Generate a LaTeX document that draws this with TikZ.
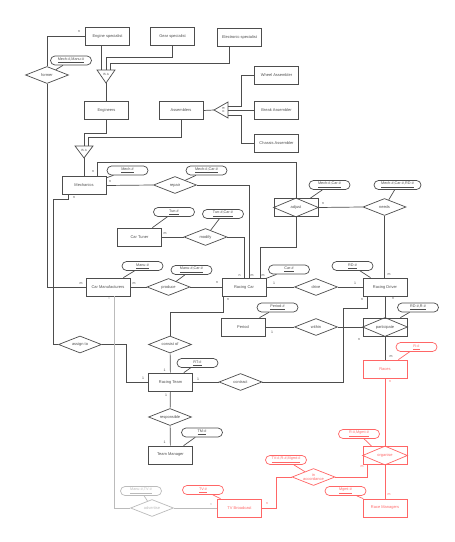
\documentclass[tikz,border=0pt]{standalone}
\usepackage{fontspec}
\setmainfont{Liberation Sans}
\usetikzlibrary{
    shapes.geometric, % For diamonds
    calc              % For coordinate offsets
}
\definecolor{erdark}{HTML}{4D4D4D}
\definecolor{erred}{HTML}{FF6666}
\definecolor{ergray}{HTML}{BBBBBB}

\begin{document}
\begin{tikzpicture}[
    x=0.03cm, y=-0.03cm,
    line width=0.6pt, erdark,
    % Styles for the ER shapes
    entity/.style={draw, rectangle, fill=white, inner sep=0pt,
        minimum width=1.32cm, minimum height=0.54cm,
        font=\fontsize{3.4}{4}\selectfont, text=erdark},
    rel/.style={draw, diamond, fill=white, inner sep=0pt, aspect=2.5,
        minimum width=1.29cm, minimum height=0.51cm, align=center,
        font=\fontsize{3.4}{4}\selectfont, text=erdark},
    attr/.style={draw, rectangle, rounded corners=0.135cm, fill=white, inner sep=0pt,
        minimum width=1.23cm, minimum height=0.27cm,
        font=\fontsize{3.2}{4}\selectfont, text=erdark},
    card/.style={inner sep=0pt, font=\fontsize{3}{3.5}\selectfont, text=erdark},
    isatext/.style={inner sep=0pt, font=\fontsize{2.6}{3}\selectfont, text=erdark},
    redset/.style={draw=erred, text=erred},
    grayset/.style={draw=ergray, text=ergray}
]
    \useasboundingbox (0,0) rectangle (454,542);

    % Specialists
    \node[entity] (eng) at (107.5,36) {Engine specialist};
    \node[entity] (gear) at (172.5,36) {Gear specialist};
    \node[entity] (elec) at (239.5,37) {Electronic specialist};

    % IS A (specialists -> engineers)
    \draw[fill=white] (97,70) -- (115,70) -- (106,83) -- cycle;
    \node[isatext] (isaA) at (106,74.5) {IS A};
    \coordinate (isaAa) at (101,70);
    \coordinate (isaAb) at (106,70);
    \coordinate (isaAc) at (110,70);
    \coordinate (isaAt) at (106,83);
    \draw (isaAa) -- (isaAa |- eng.south);
    \draw (gear.south) -- ++(0,12) -| (isaAb);
    \draw ($(elec.south)+(-10,0)$) -- ++(0,17) -| (isaAc);

    \node[entity] (engi) at (106.5,110.5) {Engineers};
    \node[entity] (asm) at (181,110.5) {Assemblers};
    \draw (isaAt) -- (isaAt |- engi.north);

    % IS A (assemblers)
    \node[entity] (wheel) at (276.5,75) {Wheel Assembler};
    \node[entity] (brk) at (276.5,110) {Break Assembler};
    \node[entity] (chas) at (276.5,143.5) {Chassis Assembler};
    \draw[fill=white] (214,110) -- (228,102) -- (228,118) -- cycle;
    \node[isatext, rotate=-90] (isaB) at (223.5,110) {IS A};
    \coordinate (isaBt) at (214,110);
    \coordinate (isaBa) at (228,106);
    \coordinate (isaBb) at (228,110);
    \coordinate (isaBc) at (228,115);
    \draw (asm.east) -- (isaBt);
    \draw (isaBa) -- ++(13,0) |- (wheel.west);
    \draw (isaBb) -- (isaBb -| brk.west);
    \draw (isaBc) -- ++(13,0) |- (chas.west);

    % IS A (engineers + assemblers -> mechanics)
    \draw[fill=white] (75,146) -- (93,146) -- (84,158) -- cycle;
    \node[isatext] (isaC) at (84,150.5) {IS A};
    \coordinate (isaCa) at (84,146);
    \coordinate (isaCb) at (88,146);
    \coordinate (isaCt) at (84,158);
    \draw (engi.south) -- ++(0,14) -| (isaCa);
    \draw (asm.south) -- ++(0,18) -| (isaCb);

    % Mechanics and former
    \node[entity] (mech) at (84,185.5) {Mechanics};
    \draw (isaCt) -- (isaCt |- mech.north);
    \node[rel] (former) at (47,75) {former};
    \node[attr] (aMechManu) at (71,60.5) {\underline{Mech-\#,Manu-\#}};
    \draw (aMechManu) -- (former);
    \node[entity] (cm) at (108,287) {Car Manufacturers};
    \draw (eng.west) -| (former.north);
    \draw (former.south) |- (cm.west);
    \node[card] (c1) at (79,32) {n};
    \node[card] (c2) at (81,284) {m};

    % repair
    \node[attr] (aMech) at (127.5,170.5) {\underline{Mech-\#}};
    \draw (aMech) -- (mech);
    \node[rel] (repair) at (175,185) {repair};
    \node[attr] (aMechCarA) at (206.5,170.5) {\underline{Mech-\#,Car-\#}};
    \draw (aMechCarA) -- (repair);
    \node[entity] (rc) at (244,287) {Racing Car};
    \draw (mech.east) -- (repair.west);
    \draw (repair.east) -| ($(rc.north)+(5,0)$);
    \node[card] (c3) at (110,182) {n};
    \node[card] (c4) at (93,172) {n};
    \node[card] (c5) at (74,197.5) {n};

    % modify
    \node[entity] (tuner) at (139.5,237) {Car Tuner};
    \node[attr] (aTun) at (174,212) {\underline{Tun-\#}};
    \draw (aTun) -- (tuner);
    \node[rel] (modify) at (205.5,237) {modify};
    \node[attr] (aTunCar) at (223,214) {\underline{Tun-\#,Car-\#}};
    \draw (aTunCar) -- (modify);
    \draw (tuner) -- (modify);
    \draw (modify.east) -| (rc.north);
    \node[card] (c6) at (165,234) {m};

    % adjust (aggregation) and needs
    \node[entity, minimum width=1.32cm] (adjust) at (296,207.5) {};
    \draw (adjust.west) -- (adjust.north) -- (adjust.east) -- (adjust.south) -- cycle;
    \node[rel, draw=none, fill=none] (adjustT) at (adjust) {adjust};
    \node[attr] (aMechCarB) at (329.5,185) {\underline{Mech-\#,Car-\#}};
    \draw (aMechCarB) -- ($(adjust.north east)+(-8,0)$);
    \draw ($(mech.north)+(13,0)$) -- ++(0,-14) -| (adjust.north);
    \draw (adjust.south) -- ++(0,30) -| ($(rc.north)+(16,0)$);
    \node[rel] (needs) at (384.5,207) {needs};
    \node[attr, minimum width=1.41cm] (aMechCarRD) at (397.5,185) {\underline{Mech-\#,Car-\#,RD-\#}};
    \draw (aMechCarRD) -- (needs);
    \draw (adjust.east) -- (needs.west);
    \node[card] (c7) at (323,204) {n};

    % produce and drive
    \node[attr] (aManu) at (142.5,266) {\underline{Manu-\#}};
    \draw (aManu) -- (cm);
    \node[rel] (produce) at (168.5,287) {produce};
    \node[attr] (aManuCar) at (191.5,270) {\underline{Manu-\#,Car-\#}};
    \draw (aManuCar) -- (produce);
    \draw (cm) -- (produce) -- (rc);
    \node[attr] (aCar) at (289,269.5) {\underline{Car-\#}};
    \draw (aCar) -- (rc);
    \node[rel] (drive) at (316,287) {drive};
    \node[entity] (rd) at (385,287) {Racing Driver};
    \node[attr] (aRD) at (352.5,266) {\underline{RD-\#}};
    \draw (aRD) -- (rd);
    \draw (rc) -- (drive) -- (rd);
    \draw (needs.south) -- (needs.south |- rd.north);
    \node[card] (c8) at (134,284) {m};
    \node[card] (c9) at (217,283) {n};
    \node[card] (c10) at (239.5,276) {n};
    \node[card] (c11) at (252,276) {m};
    \node[card] (c12) at (263,276) {m};
    \node[card] (c13) at (274,283) {1};
    \node[card] (c14) at (355,283) {1};
    \node[card] (c15) at (389,275) {m};

    % participate and within
    \node[entity] (period) at (243,327) {Period};
    \node[attr] (aPeriod) at (277.5,307.5) {\underline{Period-\#}};
    \draw (aPeriod) -- (period);
    \node[rel] (within) at (316,327) {within};
    \node[entity] (part) at (385,327) {};
    \draw (part.west) -- (part.north) -- (part.east) -- (part.south) -- cycle;
    \node[rel, draw=none, fill=none] (partT) at (part) {participate};
    \node[attr] (aRDR) at (418,307.5) {\underline{RD-\#,R-\#}};
    \draw (aRDR) -- ($(part.north east)+(-7,0)$);
    \draw (period) -- (within) -- (part);
    \draw (rd.south) -- (part.north);
    \node[card] (c16) at (272,332) {1};
    \node[card] (c17) at (359,340) {n};
    \node[card] (c18) at (393,298.5) {n};

    % Racing Team
    \node[rel] (assign) at (80,344.5) {assign to};
    \node[rel] (consist) at (170,344.5) {consist of};
    \node[entity] (rt) at (170.5,382) {Racing Team};
    \node[attr] (aRT) at (197.5,363) {\underline{RT-\#}};
    \draw (aRT) -- (rt);
    \draw ($(mech.south)+(-16,0)$) -- ++(0,5) -| ($(assign.west)+(-5,0)$) -- (assign.west);
    \draw (assign.east) -- ++(24,0) |- (rt.west);
    \draw ($(rc.south west)+(2,0)$) -- ++(0,16) -| (consist.north);
    \draw (consist) -- (rt);
    \node[rel] (contract) at (240.5,382) {contract};
    \draw (rt) -- (contract);
    \draw (contract.east) -- ++(81,0) -- ++(0,-74) -| ($(rd.south)+(-18,0)$);
    \node[card] (c19) at (228,300) {n};
    \node[card] (c20) at (362,300) {n};
    \node[card] (c21) at (164.5,370) {1};
    \node[card] (c22) at (143,378) {1};
    \node[card] (c23) at (198,379) {1};
    \node[card] (c24) at (166,395) {1};
    \node[card] (c25) at (164.5,442) {1};

    % responsible
    \node[rel] (resp) at (170,417) {responsible};
    \node[entity] (tm) at (170.5,455) {Team Manager};
    \node[attr] (aTM) at (202,432.5) {\underline{TM-\#}};
    \draw (aTM) -- (tm);
    \draw (rt) -- (resp) -- (tm);

    % Races (red part)
    \node[entity, redset] (races) at (385,369) {Races};
    \node[attr, redset] (aR) at (416.5,347) {\underline{R-\#}};
    \draw[draw=erred] (aR) -- (races);
    \draw (part) -- (races);
    \node[entity, redset] (org) at (385,455.5) {};
    \draw[draw=erred] (org.west) -- (org.north) -- (org.east) -- (org.south) -- cycle;
    \node[rel, draw=none, fill=none, text=erred] (orgT) at (org) {organise};
    \node[attr, redset] (aRMgmt) at (359,434) {\underline{R-\#,Mgmt-\#}};
    \draw[draw=erred] (aRMgmt) -- ($(org.north west)+(9,0)$);
    \draw[draw=erred] (races) -- (org);
    \node[entity, redset] (rmgr) at (385,508) {Race Managers};
    \node[attr, redset] (aMgmt) at (345.5,491) {\underline{Mgmt-\#}};
    \draw[draw=erred] (aMgmt) -- (rmgr);
    \draw[draw=erred] (org) -- (rmgr);
    \node[rel, redset] (acc) at (313.5,477) {in\\accordance};
    \node[attr, redset] (aTVRMgmt) at (286,460) {\underline{TV-\#,R-\#,Mgmt-\#}};
    \draw[draw=erred] (aTVRMgmt) -- (acc);
    \draw[draw=erred] ($(org.south)+(-18,0)$) |- (acc.east);
    \node[entity, redset] (tv) at (239.5,508) {TV Broadcast};
    \node[attr, redset] (aTV) at (203,490) {\underline{TV-\#}};
    \draw[draw=erred] (aTV) -- (tv);
    \draw[draw=erred] (acc.west) -- ++(-15,0) |- (tv.east);
    \node[card] (c26) at (391,357) {m};
    \node[card, text=erred] (c27) at (390,382) {n};
    \node[card, text=erred] (c28) at (362,467) {m};
    \node[card, text=erred] (c29) at (389,495) {m};
    \node[card, text=erred] (c30) at (267,504) {n};

    % advertise (gray)
    \node[rel, grayset] (adv) at (152,508) {advertise};
    \node[attr, grayset] (aManuTV) at (141,491) {\underline{Manu-\#,TV-\#}};
    \draw[draw=ergray] (aManuTV) -- (adv);
    \draw[draw=ergray] ($(cm.south)+(6,0)$) |- (adv.west);
    \draw[draw=ergray] (adv) -- (tv);
    \node[card, text=ergray] (c31) at (109,299) {n};
    \node[card, text=ergray] (c32) at (211,505) {n};

\end{tikzpicture}
\end{document}
